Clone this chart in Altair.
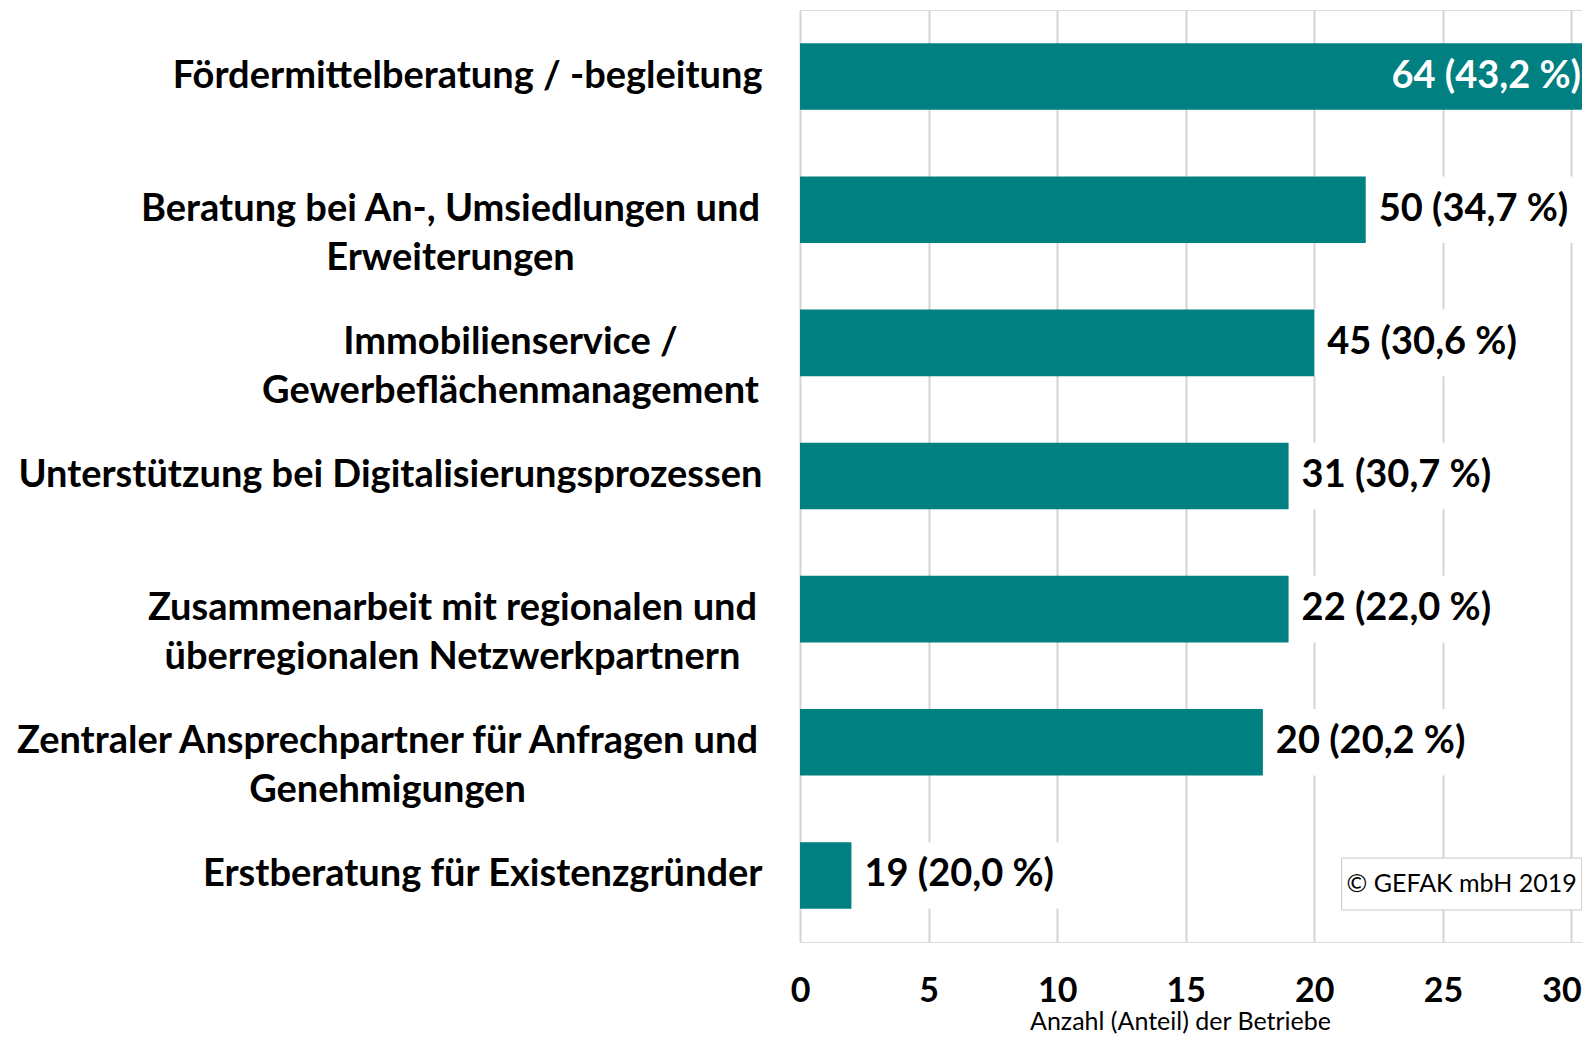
import altair as alt
import pandas as pd

# ---- data ----
categories = [
    "Fördermittelberatung / -begleitung",
    "Beratung bei An-, Umsiedlungen und\nErweiterungen",
    "Immobilienservice /\nGewerbeflächenmanagement",
    "Unterstützung bei Digitalisierungsprozessen",
    "Zusammenarbeit mit regionalen und\nüberregionalen Netzwerkpartnern",
    "Zentraler Ansprechpartner für Anfragen und\nGenehmigungen",
    "Erstberatung für Existenzgründer",
]
bar_values = [31, 22, 20, 19, 19, 18, 2]
value_labels = ["64 (43,2 %)", "50 (34,7 %)", "45 (30,6 %)", "31 (30,7 %)",
                "22 (22,0 %)", "20 (20,2 %)", "19 (20,0 %)"]
x_ticks = [0, 5, 10, 15, 20, 25, 30]
x_title = "Anzahl (Anteil) der Betriebe"
copyright_text = "© GEFAK mbH 2019"

# ---- layout / style constants ----
XMAX = 30.41
W, H = 782, 932
FONT = "Lato"
TEAL = "#008080"
GRID = "#d4d4d4"
LABEL_BOX = 8.2          # white label background length (x units)
NOTE_X1, NOTE_X2 = 21.06, 30.40
NOTE_Y1, NOTE_Y2 = 848, 900

# centre offsets (px left of plot) for the two-line, centred category blocks
multi_pad = {
    "Beratung bei": 350,
    "Immobilienservice": 290,
    "Zusammenarbeit": 348,
    "Zentraler": 413,
}

df = pd.DataFrame({"cat": categories, "v": bar_values, "lab": value_labels})
df["box_end"] = df["v"] + LABEL_BOX
note = pd.DataFrame({"x1": [NOTE_X1], "x2": [NOTE_X2],
                     "xm": [(NOTE_X1 + NOTE_X2) / 2], "t": [copyright_text]})

pad_cond = [
    {"test": f"indexof(datum.value, '{k}') === 0", "value": v}
    for k, v in multi_pad.items()
]

y_axis = alt.Axis(
    title=None, domain=False, ticks=False, tickSize=0, grid=False,
    labelFont=FONT, labelFontWeight="bold", labelFontSize=38, labelColor="black",
    labelLimit=1000, labelLineHeight=49, labelBaseline="middle",
    labelExpr="split(datum.label, '\\n')",
    labelAlign={"condition": {"test": "indexof(datum.value, '\\n') >= 0", "value": "center"},
                "value": "right"},
    labelPadding={"condition": pad_cond, "value": 38},
)
x_axis = alt.Axis(
    values=x_ticks, grid=True, gridColor=GRID, gridWidth=2, domain=False,
    ticks=False, tickSize=0, labelFont=FONT, labelFontWeight="bold",
    labelFontSize=34, labelColor="black", labelPadding=32, labelFlush=False,
    labelOffset={"condition": {"test": f"datum.value === {x_ticks[-1]}", "value": -10},
                 "value": 0},
    title=x_title, titleFont=FONT, titleFontWeight="normal", titleFontSize=25,
    titleColor="black", titleX=380, titleY=79, titleAlign="center",
    titleBaseline="middle",
)

y_enc = alt.Y("cat:N", sort=categories, axis=y_axis,
              scale=alt.Scale(paddingInner=0.5, paddingOuter=0.25))
x_scale = alt.Scale(domain=[0, XMAX], nice=False, zero=True)

base = alt.Chart(df)

label_bg = base.transform_filter(f"datum.v < {XMAX}").mark_bar(
    color="white", clip=True
).encode(x=alt.X("v:Q", scale=x_scale, axis=x_axis), x2="box_end:Q", y=y_enc)

bars = base.mark_bar(color=TEAL, clip=True).encode(
    x=alt.X("v:Q", scale=x_scale, axis=x_axis), y=y_enc
)

txt_out = base.transform_filter(f"datum.v < {XMAX}").mark_text(
    align="left", baseline="middle", dx=13, font=FONT, fontWeight="bold",
    fontSize=38, color="black"
).encode(x=alt.X("v:Q", scale=x_scale, axis=x_axis), y=y_enc, text="lab:N")

txt_in = base.transform_filter(f"datum.v >= {XMAX}").mark_text(
    align="right", baseline="middle", dx=-1, font=FONT, fontWeight="bold",
    fontSize=38, color="white"
).encode(x=alt.value(W), y=y_enc, text="lab:N")

nbase = alt.Chart(note)
shadow1 = nbase.mark_rect(color="#000000", opacity=0.12, xOffset=6, yOffset=6).encode(
    x=alt.X("x1:Q", scale=x_scale), x2="x2:Q", y=alt.value(NOTE_Y1), y2=alt.value(NOTE_Y2))
shadow2 = nbase.mark_rect(color="#000000", opacity=0.22, xOffset=3, yOffset=3).encode(
    x=alt.X("x1:Q", scale=x_scale), x2="x2:Q", y=alt.value(NOTE_Y1), y2=alt.value(NOTE_Y2))
box = nbase.mark_rect(fill="white", stroke="#c8c8c8", strokeWidth=1).encode(
    x=alt.X("x1:Q", scale=x_scale), x2="x2:Q", y=alt.value(NOTE_Y1), y2=alt.value(NOTE_Y2))
note_txt = nbase.mark_text(font=FONT, fontSize=25, color="black",
                           align="center", baseline="middle").encode(
    x=alt.X("xm:Q", scale=x_scale), y=alt.value((NOTE_Y1 + NOTE_Y2) / 2), text="t:N")

chart = alt.layer(
    label_bg, bars, txt_out, txt_in, shadow1, shadow2, box, note_txt
).properties(
    width=W, height=H,
    autosize=alt.AutoSizeParams(type="none"),
    padding={"left": 792, "top": 2, "right": 0, "bottom": 92},
).configure_view(strokeWidth=0).configure(background="white")

chart.save("out.html", embed_options={"renderer": "svg", "actions": False})
